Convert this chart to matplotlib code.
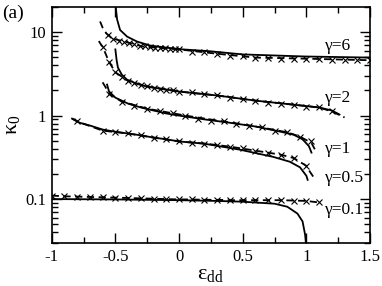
import numpy as np
import matplotlib
matplotlib.use("Agg")
import matplotlib.pyplot as plt
from matplotlib.ticker import MultipleLocator, FixedLocator, FixedFormatter, NullFormatter, LogLocator

plt.rcParams['font.family'] = ['Liberation Serif', 'DejaVu Serif']
plt.rcParams['mathtext.fontset'] = 'custom'
plt.rcParams['mathtext.rm'] = 'Liberation Serif'
plt.rcParams['mathtext.it'] = 'Liberation Serif:italic'

# gamma = 6
g6_sol_x = [-0.498, -0.486, -0.463, -0.408, -0.33, -0.227, -0.094, 0.03, 0.24, 0.5, 0.99, 1.5]
g6_sol_y = [20.5, 14.1, 10.6, 8.83, 7.7, 6.9, 6.5, 6.2, 5.9, 5.4, 5.1, 4.95]
g6_dash_x = [-0.62, -0.6, -0.57, -0.52, -0.43, -0.28, 0.0, 0.3, 0.6, 1.0, 1.5]
g6_dash_y = [13.4, 11.3, 9.6, 8.35, 7.7, 6.7, 6.2, 5.5, 4.95, 4.8, 4.6]
g6_x_x = [-0.56, -0.52, -0.47, -0.43, -0.39, -0.35, -0.31, -0.27, -0.23, -0.19, -0.15, -0.11, -0.07, -0.03,
          0.0, 0.1, 0.2, 0.3, 0.4, 0.5, 0.6, 0.7, 0.8, 0.9, 1.0, 1.1, 1.2, 1.3, 1.4, 1.5]
g6_x_y = [9.3, 8.35, 7.9, 7.7, 7.4, 7.1, 6.9, 6.75, 6.6, 6.5, 6.45, 6.4, 6.3, 6.25,
          6.2, 5.85, 5.7, 5.5, 5.2, 5.1, 4.95, 4.95, 4.8, 4.8, 4.8, 4.7, 4.6, 4.6, 4.6, 4.6]

# gamma = 2
g2_sol_x = [-0.5, -0.49, -0.48, -0.45, -0.41, -0.33, -0.25, -0.1, 0.0, 0.3, 0.6, 0.9, 1.1, 1.2, 1.26]
g2_sol_y = [6.2, 4.6, 3.76, 3.1, 2.7, 2.4, 2.22, 2.05, 1.94, 1.74, 1.51, 1.35, 1.25, 1.15, 1.03]
g2_dash_x = [-0.63, -0.61, -0.6, -0.55, -0.5, -0.4, -0.3, -0.2, -0.1, 0.0, 0.3, 0.6, 0.9, 1.1, 1.2, 1.3]
g2_dash_y = [7.8, 7.0, 6.7, 4.4, 3.3, 2.6, 2.35, 2.16, 2.05, 1.94, 1.74, 1.51, 1.35, 1.25, 1.12, 0.95]
g2_x_x = [-0.6, -0.55, -0.5, -0.45, -0.4, -0.35, -0.3, -0.25, -0.2, -0.15, -0.1, -0.05,
          0.0, 0.1, 0.2, 0.3, 0.4, 0.5, 0.6, 0.7, 0.8, 0.9, 1.0, 1.1, 1.2]
g2_x_y = [6.7, 4.4, 3.3, 2.9, 2.6, 2.45, 2.35, 2.25, 2.16, 2.1, 2.05, 2.0,
          1.94, 1.89, 1.83, 1.74, 1.64, 1.6, 1.51, 1.43, 1.39, 1.35, 1.28, 1.25, 1.12]

# gamma = 1
g1_sol_x = [-0.565, -0.55, -0.5, -0.4, -0.3, -0.2, -0.1, 0.0, 0.2, 0.4, 0.6, 0.8, 0.9, 0.97, 1.02, 1.04]
g1_sol_y = [2.35, 1.95, 1.64, 1.39, 1.25, 1.15, 1.06, 1.0, 0.9, 0.82, 0.74, 0.64, 0.59, 0.52, 0.43, 0.36]
g1_dash_x = [-0.6, -0.57, -0.55, -0.45, -0.25, 0.05, 0.35, 0.65, 0.85, 0.95, 1.04, 1.08]
g1_dash_y = [2.5, 2.1, 1.83, 1.47, 1.21, 1.0, 0.85, 0.72, 0.63, 0.56, 0.47, 0.36]
g1_x_x = [-0.55, -0.45, -0.35, -0.25, -0.15, -0.05, 0.05, 0.15, 0.25, 0.35, 0.45, 0.55,
          0.65, 0.75, 0.85, 0.95, 1.04]
g1_x_y = [1.83, 1.47, 1.32, 1.21, 1.12, 1.06, 1.0, 0.92, 0.87, 0.85, 0.8, 0.76,
          0.72, 0.66, 0.63, 0.56, 0.49]

# gamma = 0.5
g05_sol_x = [-0.84, -0.78, -0.7, -0.6, -0.5, -0.4, -0.3, -0.2, -0.1, 0.0, 0.2, 0.48, 0.74, 0.87, 0.95, 1.0, 1.01]
g05_sol_y = [0.92, 0.82, 0.76, 0.68, 0.64, 0.61, 0.58, 0.545, 0.52, 0.49, 0.46, 0.39, 0.32, 0.28, 0.24, 0.19, 0.17]
g05_dash_x = [-0.84, -0.8, -0.6, -0.4, -0.2, 0.0, 0.2, 0.4, 0.6, 0.8, 0.9, 1.0, 1.03, 1.06]
g05_dash_y = [0.92, 0.85, 0.66, 0.61, 0.545, 0.49, 0.462, 0.425, 0.38, 0.34, 0.31, 0.25, 0.21, 0.18]
g05_x_x = [-0.8, -0.6, -0.5, -0.4, -0.3, -0.2, -0.1, 0.0, 0.1, 0.2, 0.3, 0.4, 0.5, 0.6, 0.7, 0.8, 0.9, 1.0]
g05_x_y = [0.85, 0.66, 0.64, 0.61, 0.58, 0.545, 0.52, 0.49, 0.475, 0.462, 0.45, 0.425, 0.414, 0.38,
           0.36, 0.34, 0.31, 0.25]

# gamma = 0.1
g01_sol_x = [-1.0, -0.5, 0.0, 0.3, 0.5, 0.75, 0.85, 0.93, 0.97, 0.99, 0.998, 1.0]
g01_sol_y = [0.1, 0.099, 0.097, 0.095, 0.093, 0.088, 0.081, 0.067, 0.054, 0.0375, 0.028, 0.02]
g01_x_x = [-1.0, -0.9, -0.8, -0.7, -0.6, -0.5, -0.4, -0.3, -0.2, -0.1, 0.0, 0.1, 0.2, 0.3, 0.4,
           0.5, 0.6, 0.7, 0.8, 0.9, 1.0, 1.1]
g01_x_y = [0.11, 0.108, 0.107, 0.106, 0.105, 0.104, 0.103, 0.102, 0.101, 0.1, 0.099, 0.099, 0.098,
           0.098, 0.097, 0.097, 0.097, 0.097, 0.097, 0.096, 0.095, 0.091]

labels = ['γ=6', 'γ=2', 'γ=1', 'γ=0.5', 'γ=0.1']
label_y = [6.9, 1.64, 0.40, 0.18, 0.075]

fig = plt.figure(figsize=(3.82, 2.86), dpi=100)
ax = fig.add_axes([0.1353, 0.150, 0.8334, 0.827])

sol = dict(color='black', lw=1.3)
dash = dict(color='black', lw=1.3, ls=(0, (4, 2.5)))
mk = dict(color='black', ls='none', marker='x', ms=4.5, mew=0.8)

for sx, sy in [(g6_sol_x, g6_sol_y), (g2_sol_x, g2_sol_y), (g1_sol_x, g1_sol_y),
               (g05_sol_x, g05_sol_y), (g01_sol_x, g01_sol_y)]:
    ax.plot(sx, sy, **sol)
for dx, dy in [(g6_dash_x, g6_dash_y), (g2_dash_x, g2_dash_y), (g1_dash_x, g1_dash_y),
               (g05_dash_x, g05_dash_y), (g01_x_x, g01_x_y)]:
    ax.plot(dx, dy, **dash)
for mx, my in [(g6_x_x, g6_x_y), (g2_x_x, g2_x_y), (g1_x_x, g1_x_y),
               (g05_x_x, g05_x_y), (g01_x_x, g01_x_y)]:
    ax.plot(mx, my, **mk)

for lab, ly in zip(labels, label_y):
    ax.text(1.145, ly, lab, fontsize=12.5, va='center', ha='left')

ax.set_yscale('log')
ax.set_xlim(-1, 1.5)
ax.set_ylim(0.0297, 20.2)

ax.xaxis.set_major_locator(MultipleLocator(0.5))
ax.xaxis.set_minor_locator(MultipleLocator(0.25))
ax.set_xticks([-1, -0.5, 0, 0.5, 1, 1.5])
ax.set_xticklabels(['-1', '-0.5', '0', '0.5', '1', '1.5'])
ax.yaxis.set_major_locator(FixedLocator([0.1, 1, 10]))
ax.yaxis.set_major_formatter(FixedFormatter(['0.1', '1', '10']))
ax.yaxis.set_minor_locator(LogLocator(base=10, subs=np.arange(2, 10)))
ax.yaxis.set_minor_formatter(NullFormatter())

ax.tick_params(which='both', direction='in', top=True, right=True, labelsize=12, pad=4)
ax.tick_params(which='major', length=7, width=1)
ax.tick_params(which='minor', length=4, width=1)
for s in ax.spines.values():
    s.set_linewidth(1.2)

ax.set_xlabel(r'$\mathrm{\varepsilon_{dd}}$', fontsize=16, labelpad=0)
ax.set_ylabel(r'$\mathrm{\kappa_0}$', fontsize=16, labelpad=2)
fig.text(0.005, 0.985, '(a)', fontsize=14, va='top', ha='left')

fig.savefig('out.png', dpi=100)
